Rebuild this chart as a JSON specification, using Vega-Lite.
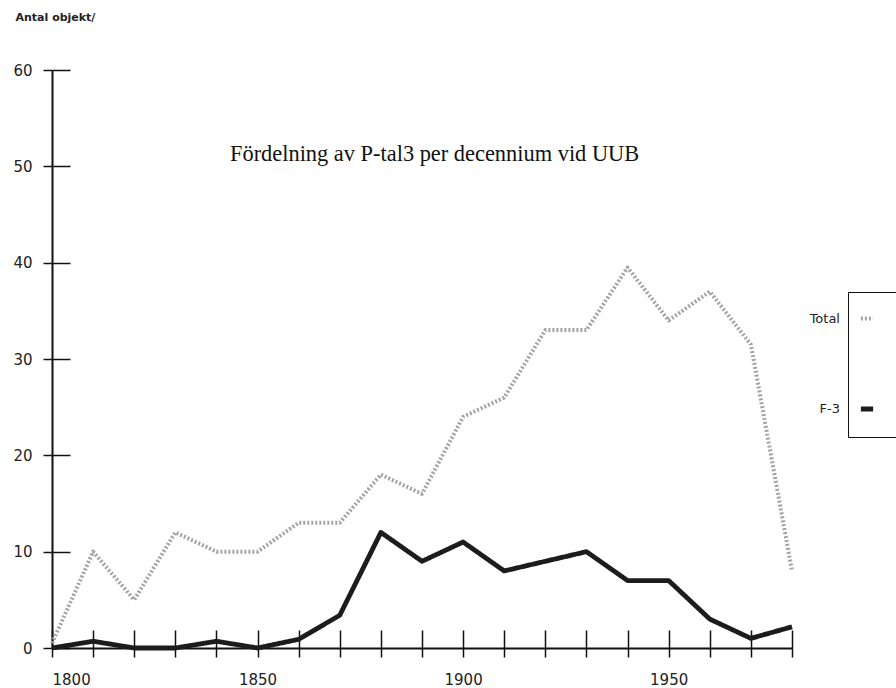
{
  "$schema": "https://vega.github.io/schema/vega-lite/v6.json",
  "width": 740,
  "height": 578,
  "autosize": {"type": "none"},
  "padding": {"left": 52, "top": 70, "right": 104, "bottom": 40},
  "background": "white",
  "title": {
    "text": "Fördelning av P-tal3 per decennium vid UUB",
    "anchor": "start",
    "frame": "group",
    "dx": 178,
    "dy": 158,
    "font": "Liberation Serif",
    "fontSize": 22.4,
    "fontWeight": "normal",
    "color": "#111"
  },
  "config": {
    "view": {"stroke": null},
    "axis": {"grid": true, "gridColor": "#111", "gridWidth": 1.5, "gridOpacity": 1, "domainColor": "#111", "tickColor": "#111", "labelColor": "#222", "labelFont": "DejaVu Sans", "labelFontSize": 15}
  },
  "data": {
    "values": [
      {"year": 1800, "series": "Total", "value": 0.5},
      {"year": 1810, "series": "Total", "value": 10},
      {"year": 1820, "series": "Total", "value": 5},
      {"year": 1830, "series": "Total", "value": 12},
      {"year": 1840, "series": "Total", "value": 10},
      {"year": 1850, "series": "Total", "value": 10},
      {"year": 1860, "series": "Total", "value": 13},
      {"year": 1870, "series": "Total", "value": 13},
      {"year": 1880, "series": "Total", "value": 18},
      {"year": 1890, "series": "Total", "value": 16},
      {"year": 1900, "series": "Total", "value": 24},
      {"year": 1910, "series": "Total", "value": 26},
      {"year": 1920, "series": "Total", "value": 33},
      {"year": 1930, "series": "Total", "value": 33},
      {"year": 1940, "series": "Total", "value": 39.5},
      {"year": 1950, "series": "Total", "value": 34},
      {"year": 1960, "series": "Total", "value": 37},
      {"year": 1970, "series": "Total", "value": 31.5},
      {"year": 1980, "series": "Total", "value": 8},
      {"year": 1800, "series": "F-3", "value": 0},
      {"year": 1810, "series": "F-3", "value": 0.7},
      {"year": 1820, "series": "F-3", "value": 0},
      {"year": 1830, "series": "F-3", "value": 0},
      {"year": 1840, "series": "F-3", "value": 0.7},
      {"year": 1850, "series": "F-3", "value": 0},
      {"year": 1860, "series": "F-3", "value": 0.9},
      {"year": 1870, "series": "F-3", "value": 3.4},
      {"year": 1880, "series": "F-3", "value": 12},
      {"year": 1890, "series": "F-3", "value": 9},
      {"year": 1900, "series": "F-3", "value": 11},
      {"year": 1910, "series": "F-3", "value": 8},
      {"year": 1920, "series": "F-3", "value": 9},
      {"year": 1930, "series": "F-3", "value": 10},
      {"year": 1940, "series": "F-3", "value": 7},
      {"year": 1950, "series": "F-3", "value": 7},
      {"year": 1960, "series": "F-3", "value": 3},
      {"year": 1970, "series": "F-3", "value": 1},
      {"year": 1980, "series": "F-3", "value": 2.2}
    ]
  },
  "mark": {"type": "line", "strokeJoin": "round"},
  "encoding": {
    "x": {"field": "year", "type": "quantitative", "scale": {"domain": [1800, 1980], "nice": false, "zero": false},
      "axis": {"orient": "bottom", "grid": true, "gridDash": [0, 560, 18, 3000], "values": [1800,1810,1820,1830,1840,1850,1860,1870,1880,1890,1900,1910,1920,1930,1940,1950,1960,1970,1980], "format": "d", "labelExpr": "datum.value % 50 === 0 ? datum.label : ''", "tickSize": 9, "tickWidth": 1.5, "domainWidth": 2, "labelPadding": 15, "title": null}},
    "y": {"field": "value", "type": "quantitative", "scale": {"domain": [0, 60], "nice": false},
      "axis": {"orient": "left", "grid": true, "gridDash": [18, 3000], "values": [0,10,20,30,40,50,60], "tickSize": 9, "tickWidth": 1.5, "domainWidth": 2, "labelPadding": 11,
        "title": "Antal objekt/", "titleAngle": 0, "titleX": -37, "titleY": -53, "titleAlign": "left", "titleBaseline": "middle", "titleFont": "DejaVu Sans", "titleFontSize": 11, "titleFontWeight": "bold", "titleColor": "#222"}},
    "color": {"field": "series", "type": "nominal", "sort": ["Total", "F-3"], "scale": {"domain": ["Total", "F-3"], "range": ["#a3a3a3", "#1c1c1c"]},
      "legend": {"orient": "none", "legendX": 796, "legendY": 222, "direction": "vertical", "title": null, "symbolType": "stroke", "symbolSize": 150, "symbolStrokeWidth": 3, "symbolOffset": -8, "labelAlign": "right", "labelOffset": -36, "labelFont": "DejaVu Sans", "labelFontSize": 13, "labelColor": "#222", "strokeColor": "#111", "padding": 18, "rowPadding": 72}},
    "strokeDash": {"field": "series", "type": "nominal", "scale": {"domain": ["Total", "F-3"], "range": [[2, 2], [1, 0]]}, "legend": null},
    "strokeWidth": {"field": "series", "type": "nominal", "scale": {"domain": ["Total", "F-3"], "range": [4, 4.8]}, "legend": null}
  }
}
